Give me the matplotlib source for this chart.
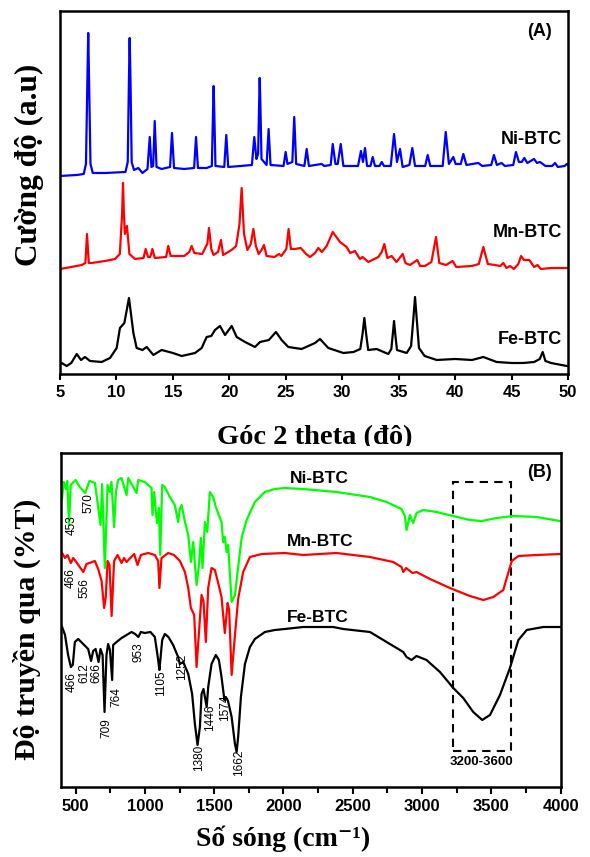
import matplotlib
matplotlib.use("Agg")
import matplotlib.pyplot as plt
from matplotlib.patches import Rectangle
from matplotlib.ticker import MultipleLocator

SERIF = ['Liberation Serif', 'DejaVu Serif']
SANS = ['Liberation Sans', 'DejaVu Sans']

# ---- (A) XRD, 2 theta vs intensity (a.u., offset stacked) ----
ni_xrd_x = [5.0, 6.5, 7.1, 7.3, 7.42, 7.5, 7.58, 7.7, 7.9, 9.0, 10.8, 11.0, 11.1, 11.17, 11.25, 11.35, 11.55,
            11.94, 12.3, 12.75, 12.95, 13.1, 13.25, 13.39, 13.55, 14.0, 14.75, 14.92, 15.1, 16.0, 16.88, 17.05,
            17.22, 18.0, 18.45, 18.55, 18.61, 18.67, 18.77, 19.55, 19.73, 19.9, 21.0, 22.0, 22.21, 22.4, 22.55,
            22.64, 22.69, 22.75, 22.85, 23.3, 23.48, 23.65, 24.8, 24.99, 25.15, 25.58, 25.75, 25.92, 26.65,
            26.85, 27.05, 28.18, 28.4, 28.98, 29.16, 29.4, 29.6, 29.87, 30.1, 31.4, 31.66, 31.84, 32.02, 32.2,
            32.5, 32.7, 32.9, 33.3, 33.5, 33.7, 34.3, 34.59, 34.85, 35.12, 35.35, 35.95, 36.21, 36.45, 37.35,
            37.57, 37.8, 38.9, 39.17, 39.45, 39.84, 40.05, 40.5, 40.73, 41.0, 42.06, 42.4, 43.2, 43.44, 43.7,
            44.12, 44.4, 45.15, 45.39, 45.65, 45.9, 46.13, 46.4, 46.99, 47.25, 47.52, 48.0, 48.6, 48.85, 49.1,
            49.7, 49.89, 50.0]
ni_xrd_y = [198, 199, 200, 210, 290, 341, 290, 210, 201, 201, 202, 212, 290, 336, 290, 212, 204,
            206, 201, 205, 237, 207, 208, 253, 207, 205, 207, 241, 206, 205, 206, 237,
            206, 206, 208, 260, 288, 260, 208, 207, 239, 207, 208, 209, 237, 215, 220,
            270, 296, 270, 215, 209, 245, 209, 208, 222, 210, 212, 257, 210, 208,
            225, 208, 210, 208, 209, 230, 210, 210, 230, 208, 208, 223, 212, 226, 208,
            208, 217, 208, 208, 212, 208, 208, 240, 212, 225, 207, 209, 226, 208, 208,
            219, 208, 208, 242, 210, 217, 210, 210, 220, 209, 211, 208, 209, 219, 209,
            211, 208, 209, 222, 212, 212, 216, 211, 215, 211, 212, 208, 208, 211, 207,
            208, 210, 209]

mn_xrd_x = [5.0, 6.0, 6.92, 7.25, 7.39, 7.55, 7.8, 9.0, 9.87, 10.3, 10.5, 10.58, 10.66, 10.75, 10.93, 11.15,
            11.64, 12.4, 12.59, 12.8, 13.0, 13.18, 13.4, 14.4, 14.59, 14.8, 16.0, 16.45, 16.66, 16.9, 17.6,
            17.9, 18.05, 18.2, 18.4, 18.6, 19.0, 19.26, 19.45, 20.2, 20.6, 20.9, 21.09, 21.3, 21.6, 21.9,
            22.13, 22.35, 22.6, 22.85, 23.07, 23.3, 24.0, 24.4, 24.6, 25.05, 25.25, 25.45, 25.8, 26.32, 26.8,
            27.15, 27.59, 27.88, 28.2, 28.62, 29.16, 29.8, 30.39, 30.7, 31.13, 31.57, 31.8, 32.31, 33.2, 33.5,
            33.73, 34.0, 34.38, 34.8, 35.36, 35.6, 36.0, 36.65, 36.9, 37.33, 37.9, 38.31, 38.6, 39.2, 39.78,
            40.1, 41.5, 42.1, 42.5, 42.9, 43.5, 44.0, 44.27, 44.55, 44.86, 45.2, 45.6, 45.84, 46.1, 46.57,
            47.0, 47.3, 47.6, 48.5, 49.2, 50.0]
mn_xrd_y = [105, 107, 109, 111, 140, 111, 111, 113, 115, 120, 160, 191, 160, 140, 148, 120,
            115, 116, 125, 117, 117, 125, 116, 117, 128, 118, 118, 122, 128, 121, 120,
            127, 130, 146, 125, 119, 122, 134, 119, 124, 128, 150, 186, 140, 124, 130,
            145, 128, 120, 124, 129, 118, 117, 120, 118, 125, 145, 125, 125, 126, 120,
            117, 121, 126, 122, 128, 142, 132, 127, 121, 123, 115, 117, 112, 117, 122,
            130, 116, 118, 112, 120, 111, 109, 114, 108, 108, 112, 137, 111, 109, 113,
            107, 108, 110, 127, 110, 109, 108, 111, 106, 108, 105, 110, 118, 114, 114,
            107, 109, 105, 106, 106, 106]

fe_xrd_x = [5.0, 5.15, 5.59, 6.0, 6.48, 6.86, 7.21, 7.66, 8.69, 9.43, 10.02, 10.31, 10.7, 11.11, 11.5, 11.79,
            12.3, 12.68, 13.27, 14.0, 15.0, 15.78, 16.96, 17.55, 17.99, 18.4, 18.73, 19.17, 19.62, 20.21,
            20.65, 21.39, 22.27, 22.72, 23.5, 24.13, 24.63, 25.22, 26.4, 27.0, 27.59, 28.03, 28.77, 30.1,
            31.0, 31.6, 31.8, 31.96, 32.12, 32.3, 33.05, 34.08, 34.35, 34.5, 34.59, 34.68, 34.85, 35.71, 36.1,
            36.3, 36.45, 36.6, 36.8, 37.3, 38.37, 40.0, 41.5, 42.5, 43.68, 45.0, 46.04, 47.0, 47.5, 47.76,
            48.0, 48.5, 49.89, 50.0]
fe_xrd_y = [9, 11, 8, 11, 20, 14, 17, 13, 12, 16, 26, 46, 51, 76, 41, 26,
            24, 27, 19, 24, 21, 18, 21, 26, 37, 38, 44, 48, 39, 48,
            37, 32, 27, 32, 34, 42, 34, 27, 25, 28, 31, 35, 26, 21,
            22, 25, 40, 56, 40, 24, 25, 20, 25, 42, 53, 42, 24, 21, 28,
            55, 77, 55, 26, 18, 14, 15, 14, 17, 12, 11, 11, 12, 15, 22,
            13, 11, 8, 8]

# ---- (B) FTIR, wavenumber vs transmittance (%T, offset stacked) ----
ni_ir_x = [402, 415, 430, 440, 453, 465, 500, 530, 570, 600, 640, 659, 680, 692, 711, 731, 747, 759, 778,
           791, 807, 832, 868, 880, 940, 952, 1000, 1048, 1055, 1067, 1087, 1101, 1111, 1125, 1144, 1180,
           1216, 1240, 1252, 1265, 1289, 1313, 1332, 1349, 1373, 1390, 1404, 1416, 1433, 1450, 1469, 1493,
           1512, 1553, 1565, 1577, 1590, 1601, 1626, 1650, 1669, 1698, 1734, 1794, 1866, 1938, 2010, 2142,
           2383, 2624, 2744, 2852, 2876, 2888, 2912, 2936, 2960, 3008, 3105, 3225, 3345, 3430, 3538, 3658,
           3826, 3995]
ni_ir_y = [288, 305, 298, 306, 262, 302, 307, 300, 294, 306, 304, 284, 262, 303, 219, 302, 295, 305, 260,
           295, 307, 309, 292, 309, 294, 307, 305, 299, 272, 295, 264, 279, 232, 302, 300, 290,
           282, 265, 278, 282, 265, 252, 225, 245, 202, 222, 249, 219, 265, 255, 295, 290,
           280, 265, 245, 250, 235, 242, 185, 192, 215, 249, 267, 285, 295, 298, 299, 298,
           295, 290, 285, 278, 271, 257, 272, 264, 274, 277, 275, 271, 267, 266, 269, 271,
           270, 266]

mn_ir_x = [403, 424, 442, 466, 483, 500, 556, 579, 600, 639, 663, 688, 706, 718, 731, 745, 760, 778, 803,
           832, 850, 868, 895, 923, 947, 971, 1024, 1072, 1096, 1105, 1120, 1168, 1210, 1253, 1289, 1313,
           1332, 1356, 1373, 1392, 1409, 1423, 1440, 1457, 1481, 1505, 1529, 1553, 1577, 1597, 1608, 1626,
           1650, 1673, 1709, 1758, 1842, 2010, 2142, 2383, 2624, 2792, 2852, 2864, 2885, 2931, 2960, 3057,
           3201, 3345, 3442, 3514, 3586, 3615, 3647, 3695, 3826, 3995]
mn_ir_y = [234, 229, 232, 224, 229, 226, 215, 223, 224, 226, 218, 206, 179, 190, 226, 222, 171, 226, 232,
           224, 229, 225, 229, 233, 222, 232, 234, 232, 226, 199, 229, 234, 232, 226, 215, 199,
           179, 172, 120, 158, 192, 186, 145, 199, 219, 217, 204, 190, 154, 184, 177, 112,
           152, 188, 215, 230, 233, 234, 232, 234, 230, 225, 220, 215, 219, 214, 215, 208,
           199, 191, 187, 190, 197, 211, 226, 231, 232, 233]

fe_ir_x = [403, 424, 446, 466, 480, 495, 519, 555, 591, 612, 627, 645, 666, 680, 695, 709, 723, 735, 748,
           764, 771, 796, 832, 868, 904, 930, 953, 971, 1000, 1040, 1072, 1096, 1105, 1125, 1144, 1170,
           1204, 1240, 1252, 1277, 1313, 1341, 1361, 1380, 1397, 1409, 1423, 1446, 1457, 1481, 1512, 1534,
           1553, 1574, 1584, 1600, 1626, 1650, 1662, 1673, 1693, 1722, 1758, 1794, 1866, 1938, 2010, 2142,
           2359, 2431, 2624, 2720, 2816, 2864, 2888, 2924, 2960, 3032, 3129, 3225, 3297, 3369, 3434, 3490,
           3562, 3634, 3695, 3755, 3875, 3995]
fe_ir_y = [160, 152, 132, 120, 122, 145, 148, 143, 138, 126, 136, 138, 125, 138, 132, 75, 132, 143, 137,
           107, 142, 145, 149, 152, 155, 153, 150, 155, 154, 155, 150, 127, 117, 147, 153, 150,
           142, 130, 123, 125, 113, 93, 63, 42, 60, 93, 98, 80, 100, 123, 132, 127,
           110, 87, 90, 86, 70, 43, 35, 50, 90, 123, 140, 148, 155, 157, 158, 160,
           160, 158, 155, 147, 139, 135, 130, 127, 131, 127, 115, 99, 89, 75, 67, 72,
           92, 119, 147, 157, 160, 160]

# peak annotations (label, x, y) in FTIR data units
ir_labels = [('453', 471, 262), ('570', 591, 284), ('466', 466, 209), ('556', 567, 199),
             ('466', 475, 105), ('612', 562, 114), ('666', 651, 114), ('709', 724, 59),
             ('764', 796, 90), ('953', 952, 135), ('1105', 1115, 104), ('1252', 1269, 120),
             ('1380', 1390, 29), ('1446', 1469, 69), ('1574', 1577, 79), ('1662', 1678, 24)]

fig = plt.figure(figsize=(5.9, 8.57), dpi=100)

# ----------- panel A -----------
ax1 = fig.add_axes([0.1017, 0.5636, 0.861, 0.4236])
ax1.plot(ni_xrd_x, ni_xrd_y, color='#0000FF', lw=1.6)
ax1.plot(mn_xrd_x, mn_xrd_y, color='#FF0000', lw=1.6)
ax1.plot(fe_xrd_x, fe_xrd_y, color='black', lw=1.6)
ax1.set_xlim(5, 50)
ax1.set_ylim(0, 363)
ax1.set_yticks([])
ax1.xaxis.set_major_locator(MultipleLocator(5))
ax1.tick_params(axis='x', direction='out', length=4, width=1.5, pad=4)
for lab in ax1.get_xticklabels():
    lab.set_family(SANS)
    lab.set_fontweight('bold')
    lab.set_fontsize(12)
for sp in ax1.spines.values():
    sp.set_linewidth(1.8)

ax1.text(49.5, 234, 'Ni-BTC', ha='right', va='center', family=SANS, fontweight='bold', fontsize=13)
ax1.text(49.5, 141, 'Mn-BTC', ha='right', va='center', family=SANS, fontweight='bold', fontsize=13)
ax1.text(49.5, 34, 'Fe-BTC', ha='right', va='center', family=SANS, fontweight='bold', fontsize=13)
ax1.text(47.5, 342, '(A)', ha='center', va='center', family=SANS, fontweight='bold', fontsize=13)

fig.text(0.05, 0.8075, 'Cường độ (a.u)', rotation=90, ha='center', va='center',
         family=SERIF, fontweight='bold', fontsize=22.5)
fig.text(0.534, 1 - 444 / 857, 'Góc 2 theta (đô)', ha='center', va='baseline',
         family=SERIF, fontweight='bold', fontsize=20.5)
# the source image crops the bottom of this label
fig.patches.append(Rectangle((0, 1 - 452 / 857), 1, 6 / 857, transform=fig.transFigure,
                             facecolor='white', edgecolor='none', zorder=5))

# ----------- panel B -----------
ax2 = fig.add_axes([0.1034, 0.0817, 0.8469, 0.3897])
ax2.plot(ni_ir_x, ni_ir_y, color='#00FF00', lw=1.6)
ax2.plot(mn_ir_x, mn_ir_y, color='#FF0000', lw=1.6)
ax2.plot(fe_ir_x, fe_ir_y, color='black', lw=1.6)
ax2.set_xlim(395, 4000)
ax2.set_ylim(0, 334)
ax2.set_yticks([])
ax2.xaxis.set_major_locator(MultipleLocator(500))
ax2.xaxis.set_minor_locator(MultipleLocator(250))
ax2.tick_params(axis='x', which='major', direction='out', length=5, width=1.5, pad=4)
ax2.tick_params(axis='x', which='minor', direction='out', length=4, width=1.5)
for lab in ax2.get_xticklabels():
    lab.set_family(SANS)
    lab.set_fontweight('bold')
    lab.set_fontsize(12)
for sp in ax2.spines.values():
    sp.set_linewidth(1.8)

ax2.text(2046, 309, 'Ni-BTC', ha='left', va='center', family=SANS, fontweight='bold', fontsize=12.5)
ax2.text(2025, 246, 'Mn-BTC', ha='left', va='center', family=SANS, fontweight='bold', fontsize=12.5)
ax2.text(2025, 169, 'Fe-BTC', ha='left', va='center', family=SANS, fontweight='bold', fontsize=12.5)
ax2.text(3850, 315, '(B)', ha='center', va='center', family=SANS, fontweight='bold', fontsize=13)

for lab, lx, ly in ir_labels:
    ax2.text(lx, ly, lab, rotation=90, ha='center', va='center', family=SANS, fontsize=8.5)

ax2.add_patch(Rectangle((3220, 36), 420, 269, fill=False, edgecolor='black', lw=1.5, ls=(0, (4, 3))))
ax2.text(3430, 25, '3200-3600', ha='center', va='center', family=SANS, fontweight='bold', fontsize=9.5)

fig.text(0.045, 0.266, 'Độ truyền qua (%T)', rotation=90, ha='center', va='center',
         family=SERIF, fontweight='bold', fontsize=21.5)
fig.text(0.48, 1 - 846 / 857, 'Số sóng (cm⁻¹)', ha='center', va='baseline',
         family=SERIF, fontweight='bold', fontsize=20)

fig.savefig('out.png', dpi=100, facecolor='white')
